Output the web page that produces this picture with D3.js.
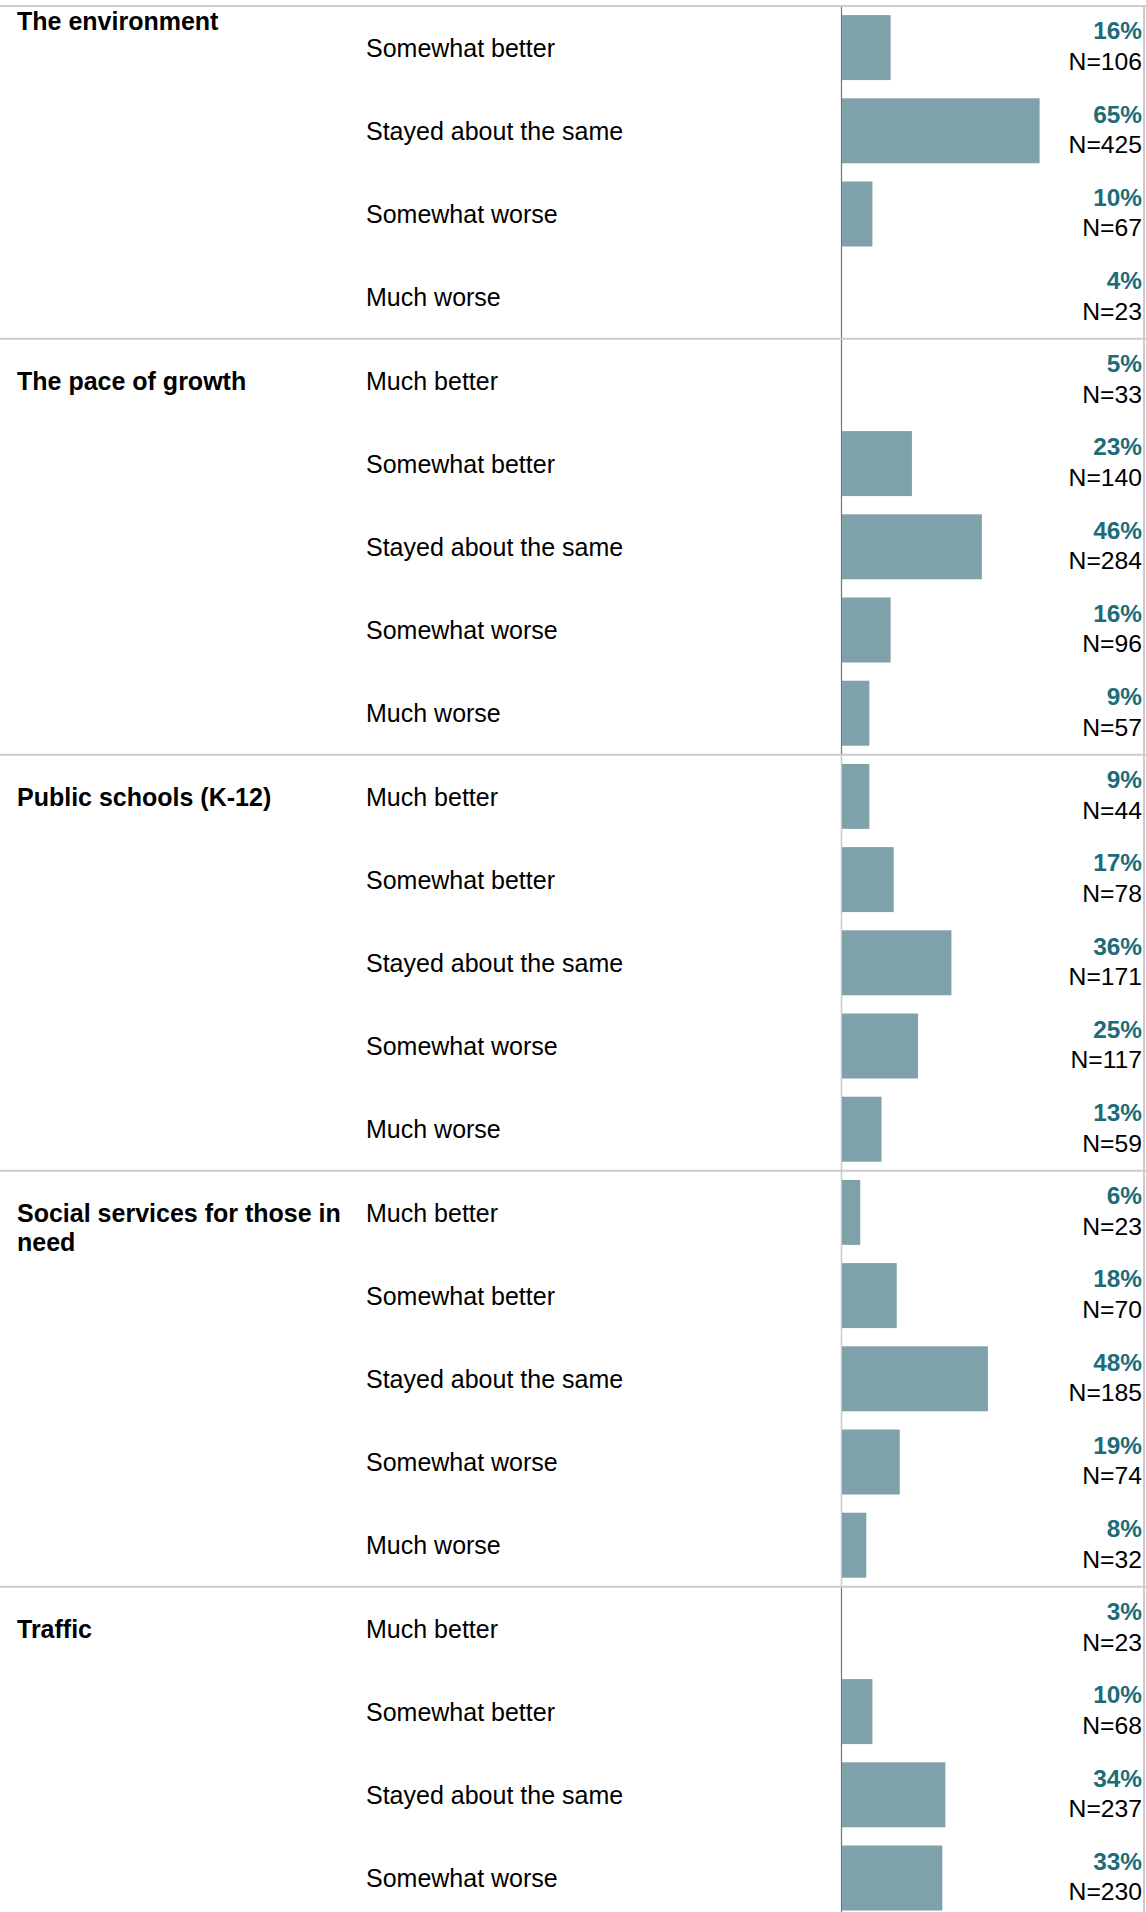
<!DOCTYPE html>
<html>
<head>
<meta charset="utf-8">
<script src="https://cdn.jsdelivr.net/npm/d3@7"></script>
<style>
  html, body { margin: 0; padding: 0; background: #fff; }
  svg { display: block; font-family: "Liberation Sans", Arial, sans-serif; }
</style>
</head>
<body>
<svg id="chart" width="1146" height="1912"></svg>
<script>
// ---- Data ----
const groups = ["The environment", "The pace of growth", "Public schools (K-12)", "Social services for those in need", "Traffic"];

const envCategories = ["Somewhat better", "Stayed about the same", "Somewhat worse", "Much worse"];
const envPct = [16, 65, 10, 4];
const envN = [106, 425, 67, 23];
const envBarShown = [true, true, true, false];

const paceCategories = ["Much better", "Somewhat better", "Stayed about the same", "Somewhat worse", "Much worse"];
const pacePct = [5, 23, 46, 16, 9];
const paceN = [33, 140, 284, 96, 57];
const paceBarShown = [false, true, true, true, true];

const schoolCategories = ["Much better", "Somewhat better", "Stayed about the same", "Somewhat worse", "Much worse"];
const schoolPct = [9, 17, 36, 25, 13];
const schoolN = [44, 78, 171, 117, 59];
const schoolBarShown = [true, true, true, true, true];

const socialCategories = ["Much better", "Somewhat better", "Stayed about the same", "Somewhat worse", "Much worse"];
const socialPct = [6, 18, 48, 19, 8];
const socialN = [23, 70, 185, 74, 32];
const socialBarShown = [true, true, true, true, true];

const trafficCategories = ["Much better", "Somewhat better", "Stayed about the same", "Somewhat worse"];
const trafficPct = [3, 10, 34, 33];
const trafficN = [23, 68, 237, 230];
const trafficBarShown = [false, true, true, true];

// ---- Build rows ----
const groupData = [
  [envCategories, envPct, envN, envBarShown],
  [paceCategories, pacePct, paceN, paceBarShown],
  [schoolCategories, schoolPct, schoolN, schoolBarShown],
  [socialCategories, socialPct, socialN, socialBarShown],
  [trafficCategories, trafficPct, trafficN, trafficBarShown]
];
const rows = [];
groupData.forEach(([cats, pct, n, shown], gi) => {
  cats.forEach((c, i) => rows.push({ id: gi + "-" + i, group: gi, first: i === 0, cat: c, pct: pct[i], n: n[i], shown: shown[i] }));
});

// ---- Layout ----
const W = 1146;
const topY = 6;
const rowH = 83.2;
const svg = d3.select("#chart");

const y = d3.scaleBand()
  .domain(rows.map(r => r.id))
  .range([topY, topY + rows.length * rowH])
  .paddingInner(0.219)
  .paddingOuter(0.1095);

const x0 = 841;
const x = d3.scaleLinear().domain([0, 100]).range([x0, x0 + 304]);

const FS = 24.4;
const FSL = 25;
const gray = "#cccccc";
const barColor = "#7fa1a9";
const pctColor = "#1d6c79";
const axisDark = "#5b7e88";

// group extents
const groupInfo = groups.map((g, gi) => {
  const gr = rows.filter(r => r.group === gi);
  const t = y(gr[0].id) - y.step() * y.paddingOuter();
  const b = y(gr[gr.length - 1].id) + y.bandwidth() + y.step() * y.paddingOuter();
  return { name: g, top: t, bottom: b, rows: gr, anyHidden: gr.some(r => !r.shown) };
});

// axis lines per group
svg.append("g").selectAll("line").data(groupInfo).join("line")
  .attr("x1", x(0) + 0.5).attr("x2", x(0) + 0.5)
  .attr("y1", d => d.top).attr("y2", d => d.bottom)
  .attr("stroke", d => d.anyHidden ? axisDark : gray)
  .attr("stroke-width", d => d.anyHidden ? 1.2 : 1.6);

// bars
svg.append("g").selectAll("rect").data(rows.filter(r => r.shown)).join("rect")
  .attr("x", x(0) + 1)
  .attr("y", d => y(d.id))
  .attr("width", d => x(d.pct) - x(0))
  .attr("height", y.bandwidth())
  .attr("fill", barColor);

// separators (top border and group tops)
svg.append("g").selectAll("line").data(groupInfo).join("line")
  .attr("x1", 0).attr("x2", W)
  .attr("y1", d => d.top).attr("y2", d => d.top)
  .attr("stroke", gray).attr("stroke-width", 2);

// right border
svg.append("line")
  .attr("x1", W - 2).attr("x2", W - 2)
  .attr("y1", topY).attr("y2", 1912)
  .attr("stroke", gray).attr("stroke-width", 2);

// category labels
const center = d => y(d.id) + y.bandwidth() / 2;
svg.append("g").selectAll("text").data(rows).join("text")
  .attr("x", 366)
  .attr("y", d => center(d) + 9.2)
  .attr("font-size", FSL)
  .attr("fill", "#000")
  .text(d => d.cat);

// percent labels
svg.append("g").selectAll("text").data(rows).join("text")
  .attr("x", 1142)
  .attr("y", d => center(d) - 8.3)
  .attr("text-anchor", "end")
  .attr("font-size", FS)
  .attr("font-weight", "bold")
  .attr("fill", pctColor)
  .text(d => d.pct + "%");

// N labels
svg.append("g").selectAll("text").data(rows).join("text")
  .attr("x", 1142)
  .attr("y", d => center(d) + 22.4)
  .attr("text-anchor", "end")
  .attr("font-size", FS + 0.3)
  .attr("fill", "#000")
  .text(d => "N=" + d.n);

// group labels (wrapped)
const maxLabelW = 345;
groupInfo.forEach(g => {
  const firstRow = g.rows[0];
  const baseY = firstRow.cat === "Much better" ? center(firstRow) + 9.2 : g.top + 24;
  const t = svg.append("text")
    .attr("x", 17).attr("y", baseY)
    .attr("font-size", FSL).attr("font-weight", "bold").attr("fill", "#000");
  const words = g.name.split(" ");
  let line = [];
  let lineNo = 0;
  let tspan = t.append("tspan").attr("x", 17).attr("y", baseY);
  words.forEach(w => {
    line.push(w);
    tspan.text(line.join(" "));
    if (tspan.node().getComputedTextLength() > maxLabelW && line.length > 1) {
      line.pop();
      tspan.text(line.join(" "));
      line = [w];
      lineNo++;
      tspan = t.append("tspan").attr("x", 17).attr("y", baseY + lineNo * 29).text(w);
    }
  });
});
</script>
</body>
</html>
